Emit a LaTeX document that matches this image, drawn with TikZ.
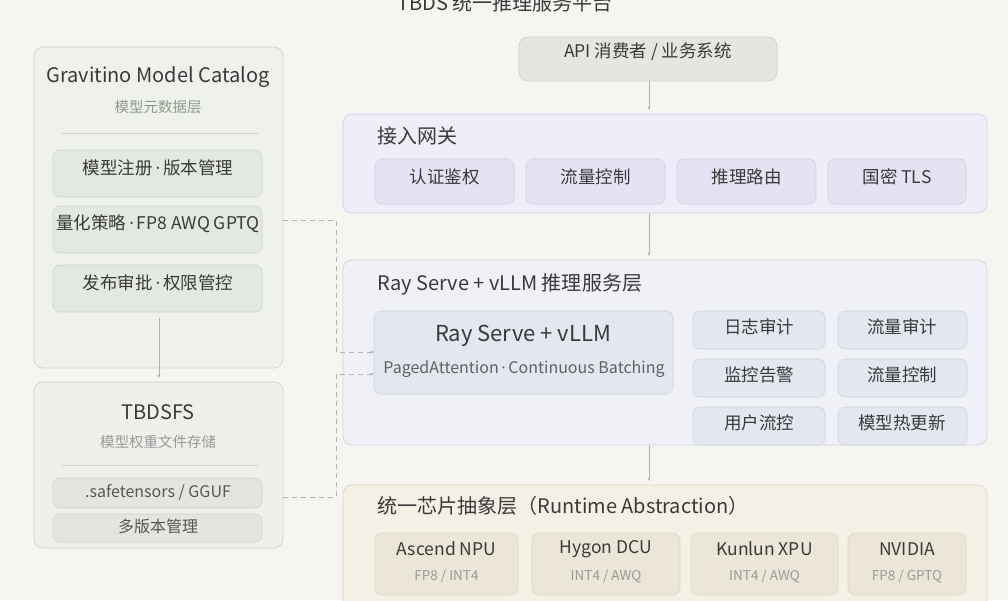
\documentclass[tikz,border=0pt]{standalone}
\usepackage{fontspec}
\setmainfont{Noto Sans CJK SC}
\newfontfamily\lat{Open Sans}
\newcommand{\md}{{\lat\,·\,}}
\usetikzlibrary{arrows.meta}
\definecolor{bg}{HTML}{F6F5F2}
\definecolor{txt}{HTML}{3A3A3A}
\definecolor{gfill}{HTML}{EEF1EC}\definecolor{gsub}{HTML}{E3E9E1}\definecolor{gline}{HTML}{CDD5CB}
\definecolor{sfill}{HTML}{F0EFEC}\definecolor{ssub}{HTML}{E6E4E0}\definecolor{sline}{HTML}{D2D0CC}
\definecolor{lfill}{HTML}{F0ECF8}\definecolor{lsub}{HTML}{E7E2F3}\definecolor{lline}{HTML}{D3CDE4}
\definecolor{bfill}{HTML}{EFF1F7}\definecolor{bsub}{HTML}{E3E7F0}\definecolor{bline}{HTML}{CDD2DE}
\definecolor{rfill}{HTML}{F4F0E5}\definecolor{rsub}{HTML}{ECE6D8}\definecolor{rline}{HTML}{DCD5C3}
\definecolor{gnote}{HTML}{8C9C88}
\begin{document}
\begin{tikzpicture}[x=1pt,y=-1pt,
 box/.style={rounded corners=9pt,line width=0.7pt},
 sub/.style={rounded corners=7pt,line width=0.6pt},
 lbl/.style={text=txt,font=\fontsize{17.5}{20}\selectfont},
 ttl/.style={text=txt,font=\fontsize{20}{22}\selectfont},
 note/.style={text=gray!80,font=\fontsize{14.5}{16}\selectfont},
 arr/.style={draw=gray!60,line width=0.7pt,-{Stealth[length=4pt]}},
 dashln/.style={draw=gray!60,line width=0.8pt,dash pattern=on 5pt off 4pt}]
\fill[bg] (0,0) rectangle (1008,600);
\useasboundingbox (0,0) rectangle (1008,600);
\node[ttl,anchor=center] (title) at (505,3) {TBDS 统一推理服务平台};
% API
\draw[box,fill=gsub!40!ssub,draw=sline] (519,37) rectangle (777,81);
\node[lbl] (api) at (648,52) {API 消费者 / 业务系统};
\coordinate (apib) at (649,81);
% gateway
\draw[box,fill=lfill,draw=lline] (343,114) rectangle (987,213);
\coordinate (gwt) at (649,110);\coordinate (gwb) at (649,213);
\node[ttl,anchor=west] (gw) at (374,136) {接入网关};
\foreach \a/\b/\t [count=\i] in {375/514/认证鉴权,526/665/流量控制,677/816/推理路由,828/966/国密 TLS}{
 \draw[sub,fill=lsub,draw=lline] (\a,159) rectangle (\b,204);
 \node[lbl] (g\i) at ({(\a+\b)/2},177) {\t};}
% ray
\draw[box,fill=bfill,draw=bline] (343,260) rectangle (987,445);
\coordinate (rat) at (649,256);\coordinate (rab) at (649,445);
\node[ttl,anchor=west] (ray) at (374,284) {Ray Serve + vLLM 推理服务层};
\draw[sub,fill=bsub,draw=bline] (374,311) rectangle (673,394);
\node[text=txt,font=\fontsize{22}{24}\selectfont] (rv) at (523,336) {Ray Serve + vLLM};
\node[text=txt!80,font=\fontsize{16}{18}\selectfont] (pa) at (524,369) {PagedAttention\md Continuous Batching};
\coordinate (in1) at (374,352);\coordinate (in2) at (374,374);
\foreach \y/\t/\u [count=\i] in {311/日志审计/流量审计,359/监控告警/流量控制,407/用户流控/模型热更新}{
 \draw[sub,fill=bsub,draw=bline] (693,\y) rectangle (825,\y+38);
 \draw[sub,fill=bsub,draw=bline] (838,\y) rectangle (967,\y+38);
 \node[lbl] (sa\i) at (759,\y+16) {\t};
 \node[lbl] (sb\i) at (902,\y+16) {\u};}
% runtime
\draw[box,fill=rfill,draw=rline] (343,485) rectangle (987,620);
\coordinate (rtt) at (649,481);
\node[ttl,anchor=west] (rt) at (374,506) {统一芯片抽象层（Runtime Abstraction）};
\foreach \a/\b/\t/\u [count=\i] in {375/518/Ascend NPU/{FP8 / INT4},532/680/Hygon DCU/{INT4 / AWQ},691/838/Kunlun XPU/{INT4 / AWQ},848/966/NVIDIA/{FP8 / GPTQ}}{
 \draw[sub,fill=rsub,draw=rline] (\a,533) rectangle (\b,595);
 \node[lbl] (c\i) at ({(\a+\b)/2},549) {\t};
 \node[note,font=\fontsize{13.5}{15}\selectfont] (q\i) at ({(\a+\b)/2},576) {\u};}
% gravitino
\draw[box,fill=gfill,draw=gline] (34,47) rectangle (283,368);
\node[ttl] (gv) at (158,77) {Gravitino Model Catalog};
\node[note,text=gnote] (gvs) at (158,107) {模型元数据层};
\draw[gline] (62,133) -- (258,133);
\foreach \y/\t [count=\i] in {150/模型注册\md 版本管理,206/量化策略\md FP8 AWQ GPTQ,265/发布审批\md 权限管控}{
 \draw[sub,fill=gsub,draw=gline] (53,\y) rectangle (262,\y+47);
 \node[lbl] (m\i) at (158,\y+18) {\t};}
\coordinate (gvr) at (283,220);\coordinate (gvb) at (159,318);
% tbdsfs
\draw[box,fill=sfill,draw=sline] (34,382) rectangle (283,548);
\node[ttl] (fs) at (158,412) {TBDSFS};
\node[note] (fss) at (158,442) {模型权重文件存储};
\draw[sline] (62,465) -- (258,465);
\draw[sub,fill=ssub,draw=sline] (53,478) rectangle (262,508);
\node[lbl,text=txt!85,font=\fontsize{16}{18}\selectfont] (f1) at (158,492) {.safetensors / GGUF};
\draw[sub,fill=ssub,draw=sline] (53,514) rectangle (262,542);
\node[lbl,text=txt!85,font=\fontsize{16}{18}\selectfont] (f2) at (158,526) {多版本管理};
\coordinate (fst) at (159,378);\coordinate (fsr) at (283,497);
% connectors
\draw[arr] (apib) -- (gwt);
\draw[arr] (gwb) -- (rat);
\draw[arr] (rab) -- (rtt);
\draw[arr] (gvb) -- (fst);
\draw[dashln,-{Stealth[length=4pt]}] (gvr) -- (336,220) -- (336,352) -- (in1);
\draw[dashln,-{Stealth[length=4pt]}] (fsr) -- (336,497) -- (336,374) -- (in2);
\end{tikzpicture}
\end{document}
